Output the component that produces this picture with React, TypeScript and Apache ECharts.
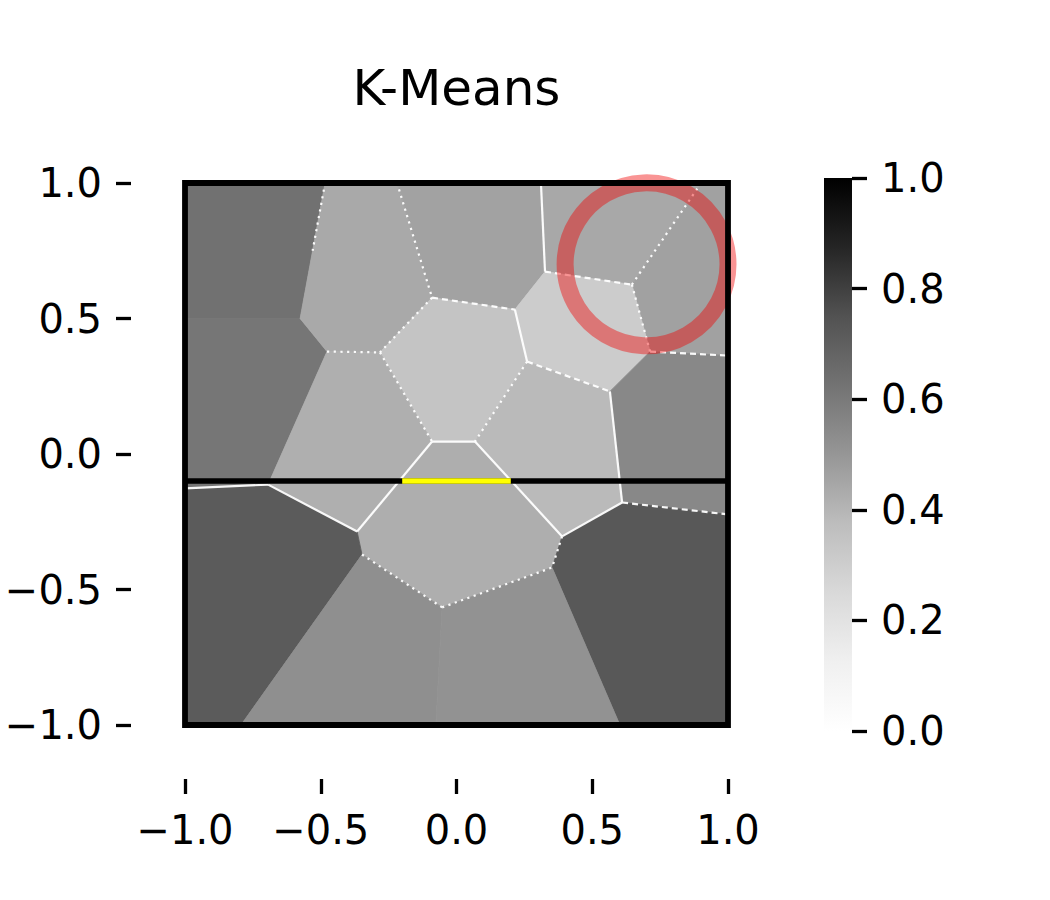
import React, { useEffect, useRef } from "react";
import * as echarts from "echarts";

// ---------- data ----------
const titleText = "K-Means";
const axisTicks = [-1, -0.5, 0, 0.5, 1];
const colorbarTicks = [0, 0.2, 0.4, 0.6, 0.8, 1.0];

// K-Means cluster regions (data coordinates) and their values (0..1, Greys colormap)
const regionNames = ["A1", "A2", "B", "C", "E", "G", "F", "D", "K", "I", "H", "J", "L", "M", "N", "O"];
const regionValues = [0.633, 0.615, 0.44, 0.46, 0.442, 0.465, 0.308, 0.345, 0.42, 0.385, 0.55, 0.423, 0.716, 0.727, 0.525, 0.514];
const regionPolygons: number[][][] = [
  [[-1, 1], [-0.484, 1], [-0.576, 0.5], [-1, 0.5]],
  [[-1, 0.5], [-0.576, 0.5], [-0.477, 0.378], [-0.694, -0.113], [-1, -0.127]],
  [[-0.484, 1], [-0.219, 1], [-0.09, 0.577], [-0.282, 0.375], [-0.477, 0.378], [-0.576, 0.5]],
  [[-0.219, 1], [0.311, 1], [0.326, 0.673], [0.215, 0.533], [-0.09, 0.577]],
  [[0.311, 1], [0.901, 1], [0.646, 0.625], [0.326, 0.673]],
  [[0.901, 1], [1, 1], [1, 0.363], [0.713, 0.378], [0.646, 0.625]],
  [[0.326, 0.673], [0.646, 0.625], [0.713, 0.378], [0.565, 0.231], [0.26, 0.341], [0.215, 0.533]],
  [[-0.09, 0.577], [0.215, 0.533], [0.26, 0.341], [0.068, 0.046], [-0.09, 0.046], [-0.282, 0.375]],
  [[-0.477, 0.378], [-0.282, 0.375], [-0.09, 0.046], [-0.366, -0.286], [-0.694, -0.113]],
  [[0.26, 0.341], [0.565, 0.231], [0.61, -0.179], [0.389, -0.304], [0.068, 0.046]],
  [[0.713, 0.378], [1, 0.363], [1, -0.223], [0.61, -0.179], [0.565, 0.231]],
  [[-0.09, 0.046], [0.068, 0.046], [0.389, -0.304], [0.352, -0.419], [-0.053, -0.566], [-0.348, -0.371], [-0.366, -0.286]],
  [[-1, -0.127], [-0.694, -0.113], [-0.366, -0.286], [-0.348, -0.371], [-0.794, -1], [-1, -1]],
  [[0.389, -0.304], [0.61, -0.179], [1, -0.223], [1, -1], [0.602, -1], [0.352, -0.419]],
  [[-0.794, -1], [-0.348, -0.371], [-0.053, -0.566], [-0.076, -1]],
  [[-0.076, -1], [-0.053, -0.566], [0.352, -0.419], [0.602, -1]],
];

// white cluster borders
const solidBorders: number[][][] = [
  [[0.311, 1], [0.326, 0.673]],
  [[-0.09, 0.046], [0.068, 0.046]],
  [[0.215, 0.533], [0.26, 0.341]],
  [[0.565, 0.231], [0.61, -0.179]],
  [[0.61, -0.179], [0.389, -0.304]],
  [[0.068, 0.046], [0.389, -0.304]],
  [[-0.09, 0.046], [-0.366, -0.286]],
  [[-0.694, -0.113], [-0.366, -0.286]],
  [[-1, -0.127], [-0.694, -0.113]],
];
const dashedBorders: number[][][] = [
  [[0.326, 0.673], [0.646, 0.625]],
  [[-0.09, 0.577], [0.215, 0.533]],
  [[0.26, 0.341], [0.565, 0.231]],
  [[0.713, 0.378], [1, 0.363]],
  [[0.61, -0.179], [1, -0.223]],
];
const dottedBorders: number[][][] = [
  [[-0.484, 1], [-0.53, 0.75]],
  [[-0.219, 1], [-0.09, 0.577]],
  [[-0.09, 0.577], [-0.282, 0.375]],
  [[-0.477, 0.378], [-0.282, 0.375]],
  [[-0.282, 0.375], [-0.09, 0.046]],
  [[0.26, 0.341], [0.068, 0.046]],
  [[0.646, 0.625], [0.901, 1]],
  [[0.646, 0.625], [0.713, 0.378]],
  [[-0.348, -0.371], [-0.053, -0.566]],
  [[-0.053, -0.566], [0.352, -0.419]],
  [[0.389, -0.304], [0.352, -0.419]],
];

const cutLine = [[-1, -0.1], [1, -0.1]];
const highlightSegment = [[-0.2, -0.1], [0.2, -0.1]];
const circleCenter = [0.7, 0.7];
const circleRadius = 0.3;
const frameExtent = [[-1, -1, 1, 1]];

// matplotlib "Greys" colormap levels (0 -> 1)
const greysLevels = [255, 240, 217, 189, 150, 115, 82, 37, 0];

// ---------- helpers ----------
function greys(v: number): string {
  const t = Math.max(0, Math.min(1, v)) * (greysLevels.length - 1);
  const i = Math.min(greysLevels.length - 2, Math.floor(t));
  const f = t - i;
  const g = Math.round(greysLevels[i] + (greysLevels[i + 1] - greysLevels[i]) * f);
  return `rgb(${g},${g},${g})`;
}
const fmt = (v: number) => (v < 0 ? "\u2212" : "") + Math.abs(v).toFixed(1);
const FONT = "DejaVu Sans";

function borderSeries(segs: number[][][], dash: number[] | null, width: number) {
  return {
    type: "custom",
    xAxisIndex: 0,
    yAxisIndex: 0,
    clip: true,
    silent: true,
    data: segs.map((s) => [s[0][0], s[0][1], s[1][0], s[1][1]]),
    renderItem: (params: any, api: any) => {
      const s = segs[params.dataIndex];
      const a = api.coord(s[0]);
      const b = api.coord(s[1]);
      return {
        type: "line",
        shape: { x1: a[0], y1: a[1], x2: b[0], y2: b[1] },
        style: { stroke: "rgba(255,255,255,0.95)", lineWidth: width, lineDash: dash || undefined, fill: null },
      };
    },
  };
}

const mkTick = () => ({ show: true, inside: false, length: 15, lineStyle: { color: "#000", width: 3.3 } });
const mkLine = () => ({ show: false, onZero: false });
const mkLabel = (margin: number, formatter: any) => ({ color: "#000", fontSize: 40, fontFamily: FONT, margin, formatter });

export default function App() {
  const ref = useRef<HTMLDivElement>(null);
  useEffect(() => {
    if (!ref.current) return;
    const chart = echarts.init(ref.current, undefined, { renderer: "svg" });
    // top of the colorbar = 1 (dark), bottom = 0 (white)
    const n = greysLevels.length - 1;
    const gradStops = greysLevels
      .map((g, i) => ({ offset: 1 - i / n, color: `rgb(${g},${g},${g})` }))
      .reverse();
    chart.setOption({
      animation: false,
      backgroundColor: "#fff",
      graphic: [
        {
          type: "text",
          x: 456.5,
          y: 88,
          style: {
            text: titleText,
            fontSize: 50,
            fontFamily: FONT,
            fill: "#000",
            align: "center",
            verticalAlign: "middle",
            textAlign: "center",
            textVerticalAlign: "middle",
          },
        },
      ],
      grid: [
        { left: 185, top: 183, width: 543, height: 542, show: false },
        {
          left: 824,
          top: 178,
          width: 28,
          height: 553,
          show: true,
          borderWidth: 0,
          backgroundColor: new echarts.graphic.LinearGradient(0, 0, 0, 1, gradStops),
        },
      ],
      xAxis: [
        {
          gridIndex: 0,
          type: "value",
          position: "bottom",
          min: axisTicks[0],
          max: axisTicks[axisTicks.length - 1],
          interval: 0.5,
          offset: 54,
          axisLine: mkLine(),
          axisTick: mkTick(),
          axisLabel: mkLabel(31, fmt),
          splitLine: { show: false },
        },
        { gridIndex: 1, type: "value", min: 0, max: 1, show: false },
      ],
      yAxis: [
        {
          gridIndex: 0,
          type: "value",
          position: "left",
          min: axisTicks[0],
          max: axisTicks[axisTicks.length - 1],
          interval: 0.5,
          offset: 54,
          axisLine: mkLine(),
          axisTick: mkTick(),
          axisLabel: mkLabel(29, fmt),
          splitLine: { show: false },
        },
        {
          gridIndex: 1,
          type: "value",
          position: "right",
          min: colorbarTicks[0],
          max: colorbarTicks[colorbarTicks.length - 1],
          interval: 0.2,
          offset: 0,
          axisLine: mkLine(),
          axisTick: mkTick(),
          axisLabel: mkLabel(29, (v: number) => v.toFixed(1)),
          splitLine: { show: false },
        },
      ],
      series: [
        {
          type: "custom",
          name: "clusters",
          xAxisIndex: 0,
          yAxisIndex: 0,
          clip: true,
          silent: true,
          data: regionValues.map((v, i) => [regionPolygons[i][0][0], regionPolygons[i][0][1], v, regionNames[i]]),
          renderItem: (params: any, api: any) => {
            const i = params.dataIndex;
            const pts = regionPolygons[i].map((p) => api.coord(p));
            const c = greys(regionValues[i]);
            return { type: "polygon", shape: { points: pts }, style: { fill: c, stroke: c, lineWidth: 0.8 } };
          },
        },
        borderSeries(solidBorders, null, 2.2),
        borderSeries(dashedBorders, [6, 4], 2.2),
        borderSeries(dottedBorders, [2.2, 4.5], 2.2),
        {
          type: "custom",
          name: "circle",
          xAxisIndex: 0,
          yAxisIndex: 0,
          clip: false,
          silent: true,
          data: [[circleCenter[0], circleCenter[1], circleRadius]],
          renderItem: (params: any, api: any) => {
            const c = api.coord(circleCenter);
            const r = api.size([circleRadius, circleRadius])[0];
            return {
              type: "circle",
              shape: { cx: c[0], cy: c[1], r },
              style: { fill: "none", stroke: "rgba(240,0,0,0.42)", lineWidth: 17 },
            };
          },
        },
        {
          type: "line",
          xAxisIndex: 0,
          yAxisIndex: 0,
          data: cutLine,
          symbol: "none",
          silent: true,
          lineStyle: { color: "#000", width: 5.5 },
        },
        {
          type: "line",
          xAxisIndex: 0,
          yAxisIndex: 0,
          data: highlightSegment,
          symbol: "none",
          silent: true,
          lineStyle: { color: "#ffff00", width: 5.5 },
        },
        {
          type: "custom",
          name: "frame",
          xAxisIndex: 0,
          yAxisIndex: 0,
          clip: false,
          silent: true,
          data: frameExtent,
          renderItem: (params: any, api: any) => {
            const e = frameExtent[0];
            const a = api.coord([e[0], e[3]]);
            const b = api.coord([e[2], e[1]]);
            return {
              type: "rect",
              shape: { x: a[0], y: a[1], width: b[0] - a[0], height: b[1] - a[1] },
              style: { fill: "none", stroke: "#000", lineWidth: 5.8 },
            };
          },
        },
      ],
    });
    return () => chart.dispose();
  }, []);
  return (
    <div
      ref={ref}
      style={{ position: "absolute", left: 0, top: 0, width: 1050, height: 900, background: "#fff" }}
    />
  );
}
